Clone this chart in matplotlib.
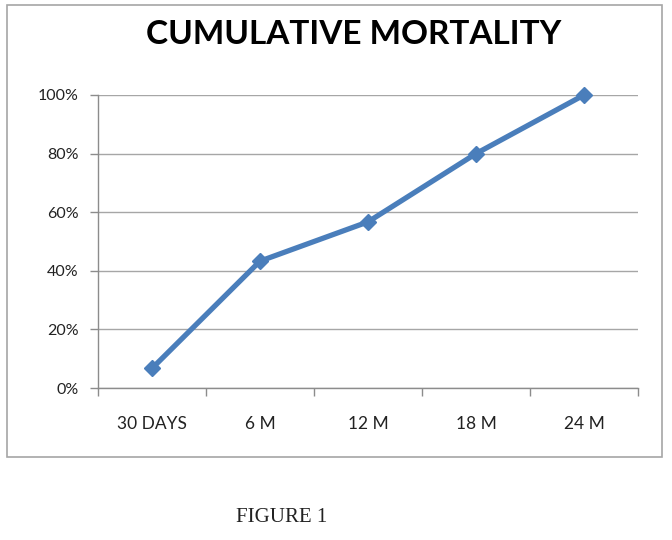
import matplotlib
matplotlib.use("Agg")
import matplotlib.pyplot as plt
from matplotlib.patches import Rectangle
from matplotlib.ticker import FuncFormatter, MultipleLocator

categories = ["30 DAYS", "6 M", "12 M", "18 M", "24 M"]
mortality = [6.7, 43.3, 56.7, 80.0, 100.0]

fig = plt.figure(figsize=(6.72, 5.4), dpi=100)
fig.patch.set_facecolor("white")

# outer chart border
fig.patches.append(Rectangle((7/672, 1-457/540), (662-7)/672, (457-5)/540,
                             transform=fig.transFigure, fill=False,
                             edgecolor="#a6a6a6", linewidth=1.2))

ax = fig.add_axes([98/672, 1-388/540, (638-98)/672, (388-95)/540])
x = list(range(len(categories)))
ax.plot(x, mortality, color="#4a7ebb", linewidth=3.8, marker="D",
        markersize=8, markerfacecolor="#4a7ebb", markeredgecolor="#4a7ebb",
        solid_capstyle="round", zorder=3, clip_on=False)

ax.set_xlim(-0.5, len(categories) - 0.5)
ax.set_ylim(0, 100)
ax.yaxis.set_major_locator(MultipleLocator(20))
ax.yaxis.set_major_formatter(FuncFormatter(lambda v, p: f"{int(v)}%"))
ax.set_xticks(x)
ax.set_xticklabels(categories)
ax.set_xticks([i - 0.5 for i in range(len(categories) + 1)], minor=True)

ax.grid(axis="y", color="#a6a6a6", linewidth=1.0, zorder=0)
for s in ["top", "right"]:
    ax.spines[s].set_visible(False)
for s in ["left", "bottom"]:
    ax.spines[s].set_color("#8c8c8c")
    ax.spines[s].set_linewidth(1.0)

font = ["Lato", "DejaVu Sans"]
ax.tick_params(axis="y", length=6, width=1, color="#8c8c8c", pad=8,
               labelsize=11.5, labelcolor="#222222")
ax.tick_params(axis="x", which="major", length=0, pad=20, labelsize=12.5,
               labelcolor="#222222")
ax.tick_params(axis="x", which="minor", length=6, width=1, color="#8c8c8c")
for lab in ax.get_xticklabels() + ax.get_yticklabels():
    lab.set_fontfamily(font)

fig.text(354/672, 1-35/540, "CUMULATIVE MORTALITY", ha="center", va="center",
         fontsize=24, fontweight="bold", family=font, color="black")
fig.text(282/672, 1-518/540, "FIGURE 1", ha="center", va="center",
         fontsize=15, family=["Liberation Serif", "DejaVu Serif"], color="#222222")

fig.savefig("out.png", dpi=100, facecolor="white")
